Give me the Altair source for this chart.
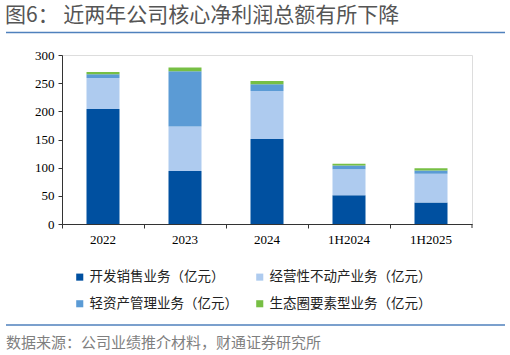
import altair as alt
import pandas as pd

periods = ["2022", "2023", "2024", "1H2024", "1H2025"]
series = ["开发销售业务（亿元）", "经营性不动产业务（亿元）", "轻资产管理业务（亿元）", "生态圈要素型业务（亿元）"]
dev = [204, 94, 151, 51, 38]
oper = [55, 79, 85, 46, 51]
asset = [7, 98, 12, 7, 6]
eco = [4, 7, 6, 3, 4]
colors = ["#0050A0", "#AECBEF", "#5B9BD5", "#77BF44"]

rows = []
for i, p in enumerate(periods):
    for k, (s, vals) in enumerate(zip(series, [dev, oper, asset, eco])):
        rows.append({"period": p, "series": s, "value": vals[i], "order": k})
df = pd.DataFrame(rows)

W, H = 410, 169
serif = "Liberation Serif"
cjk = "Noto Sans CJK SC"

bars = alt.Chart(df).mark_bar(size=33).encode(
    x=alt.X("period:N", sort=periods, title=None,
            scale=alt.Scale(paddingInner=0, paddingOuter=0),
            axis=alt.Axis(labelAngle=0, labelFont=serif, labelFontSize=13, labelColor="#000000",
                          domainColor="#333333", tickColor="#333333", tickSize=4,
                          bandPosition=0, labelPadding=5, grid=False)),
    y=alt.Y("value:Q", stack="zero", title=None,
            scale=alt.Scale(domain=[0, 300], nice=False),
            axis=alt.Axis(values=[0, 50, 100, 150, 200, 250, 300], labelFont=serif, labelFontSize=13,
                          labelColor="#000000", domainColor="#333333", tickColor="#333333",
                          tickSize=4, grid=False, labelPadding=4)),
    color=alt.Color("series:N", sort=series,
                    scale=alt.Scale(domain=series, range=colors),
                    legend=alt.Legend(title=None, orient="none", legendX=11, legendY=215,
                                      direction="horizontal", columns=2, columnPadding=15,
                                      rowPadding=12, labelLimit=300,
                                      symbolType="square", symbolSize=50, symbolStrokeWidth=0,
                                      labelFont=cjk, labelFontSize=13.5, labelColor="#222222",
                                      labelOffset=3)),
    order=alt.Order("order:Q"),
)

end_tick = alt.Chart(pd.DataFrame({"a": [0]})).mark_rule(color="#333333").encode(
    x=alt.value(W), y=alt.value(H), y2=alt.value(H + 4))

top_line = alt.Chart(pd.DataFrame({"a": [0]})).mark_rule(color="#4F81BD", strokeWidth=1.5).encode(
    x=alt.value(6 - 62), x2=alt.value(505 - 62), y=alt.value(32.5 - 55))

bottom_line = alt.Chart(pd.DataFrame({"a": [0]})).mark_rule(color="#4F81BD", strokeWidth=1.5).encode(
    x=alt.value(6 - 62), x2=alt.value(505 - 62), y=alt.value(325 - 55))

source = alt.Chart(pd.DataFrame({"t": ["数据来源：公司业绩推介材料，财通证券研究所"]})).mark_text(
    align="left", baseline="middle", font=cjk, fontSize=15, color="#7F7F7F").encode(
    x=alt.value(6 - 62), y=alt.value(343 - 55), text="t:N")

title = alt.Chart(pd.DataFrame({"t": ["图6：  近两年公司核心净利润总额有所下降"]})).mark_text(
    align="left", baseline="middle", font=cjk, fontSize=21, fontWeight="normal", color="#555555").encode(
    x=alt.value(5 - 62), y=alt.value(16 - 55), text="t:N")

chart = alt.layer(bars, end_tick, top_line, bottom_line, source, title).properties(
    width=W, height=H,
    autosize=alt.AutoSizeParams(type="none"),
    padding={"left": 62, "top": 55, "right": 38, "bottom": 131},
).configure_view(stroke=None).configure(background="#FFFFFF")

chart.save("out.html", embed_options={"renderer": "svg", "actions": False})
